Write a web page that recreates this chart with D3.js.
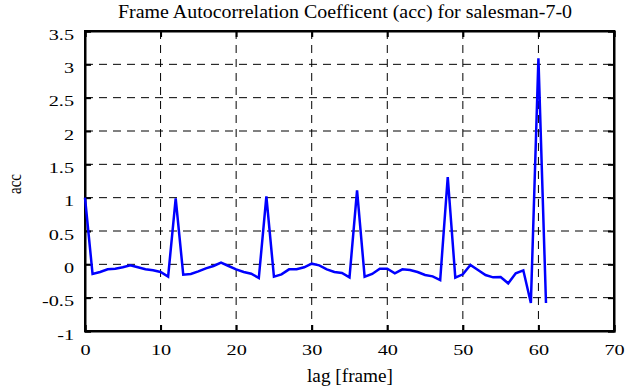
<!DOCTYPE html>
<html>
<head>
<meta charset="utf-8">
<script src="https://cdn.jsdelivr.net/npm/d3@7"></script>
<style>
  body { margin: 0; background: #fff; }
  text { font-family: "Liberation Serif", "Times New Roman", serif; fill: #000; }
</style>
</head>
<body>
<script>
// acc values for lag 0..61
var lags = d3.range(0, 62);
var acc = [1.0, -0.145, -0.115, -0.075, -0.065, -0.045, -0.015, -0.045, -0.075, -0.09,
           -0.115, -0.185, 0.99, -0.155, -0.145, -0.105, -0.06, -0.025, 0.025, -0.025,
           -0.075, -0.115, -0.14, -0.205, 1.02, -0.185, -0.15, -0.075, -0.075, -0.045,
           0.01, -0.015, -0.075, -0.115, -0.13, -0.195, 1.11, -0.185, -0.145, -0.065,
           -0.065, -0.135, -0.075, -0.085, -0.115, -0.16, -0.18, -0.235, 1.31, -0.2,
           -0.15, -0.01, -0.085, -0.16, -0.195, -0.19, -0.285, -0.135, -0.09, -0.58,
           3.09, -0.58];
var xTicks = [0, 10, 20, 30, 40, 50, 60, 70];
var yTicks = [-1, -0.5, 0, 0.5, 1, 1.5, 2, 2.5, 3, 3.5];

var width = 635, height = 387;
// plot box (window.top is reserved, so use other names)
var pLeft = 85, pRight = 614, pTop = 31, pBottom = 331;
var stretch = 1.35; // tick labels in the original are wide

var svg = d3.select("body").append("svg")
    .attr("width", width)
    .attr("height", height);

var x = d3.scaleLinear().domain([0, 70]).range([pLeft, pRight]);
var y = d3.scaleLinear().domain([-1, 3.5]).range([pBottom, pTop]);

// dashed grid
svg.append("g").selectAll("line").data(xTicks.slice(1, -1)).join("line")
    .attr("x1", d => x(d)).attr("x2", d => x(d))
    .attr("y1", pTop).attr("y2", pBottom)
    .attr("stroke", "#000").attr("stroke-width", 1)
    .attr("stroke-dasharray", "8,6");
svg.append("g").selectAll("line").data(yTicks.slice(1, -1)).join("line")
    .attr("x1", pLeft).attr("x2", pRight)
    .attr("y1", d => y(d)).attr("y2", d => y(d))
    .attr("stroke", "#000").attr("stroke-width", 1)
    .attr("stroke-dasharray", "8,6");

// axes, ticks pointing inwards
var fmt = d => String(d);
var xAxis = svg.append("g").attr("transform", "translate(0," + pBottom + ")")
    .call(d3.axisBottom(x).tickValues(xTicks).tickSize(-6).tickFormat(fmt));
svg.append("g").attr("transform", "translate(0," + pTop + ")")
    .call(d3.axisTop(x).tickValues(xTicks).tickSize(-6).tickFormat(""));
var yAxis = svg.append("g").attr("transform", "translate(" + pLeft + ",0)")
    .call(d3.axisLeft(y).tickValues(yTicks).tickSize(-6).tickFormat(fmt));
svg.append("g").attr("transform", "translate(" + pRight + ",0)")
    .call(d3.axisRight(y).tickValues(yTicks).tickSize(-6).tickFormat(""));

svg.selectAll(".domain").attr("stroke", "#000").attr("stroke-width", 2);
svg.selectAll(".tick line").attr("stroke", "#000").attr("stroke-width", 2);
svg.selectAll(".tick text").attr("font-size", 15);

xAxis.selectAll(".tick text")
    .attr("y", 24).attr("dy", 0)
    .attr("transform", "scale(" + stretch + ",1)");
yAxis.selectAll(".tick text")
    .attr("x", -11 / stretch).attr("dy", 8.3)
    .attr("transform", "scale(" + stretch + ",1)");

// frame
svg.append("rect")
    .attr("x", pLeft).attr("y", pTop)
    .attr("width", pRight - pLeft).attr("height", pBottom - pTop)
    .attr("fill", "none").attr("stroke", "#000").attr("stroke-width", 2);

// the series
var line = d3.line()
    .x((d, i) => x(lags[i]))
    .y(d => y(d));
svg.append("path")
    .attr("d", line(acc))
    .attr("fill", "none")
    .attr("stroke", "#0000ff")
    .attr("stroke-width", 2.5)
    .attr("stroke-linejoin", "miter");

// titles
svg.append("text")
    .attr("x", 345).attr("y", 18)
    .attr("text-anchor", "middle").attr("font-size", 18)
    .attr("textLength", 454).attr("lengthAdjust", "spacingAndGlyphs")
    .text("Frame Autocorrelation Coefficent (acc) for salesman-7-0");
svg.append("text")
    .attr("x", 350).attr("y", 382)
    .attr("text-anchor", "middle").attr("font-size", 18)
    .attr("textLength", 86).attr("lengthAdjust", "spacingAndGlyphs")
    .text("lag [frame]");
svg.append("text")
    .attr("transform", "translate(21,184) rotate(-90)")
    .attr("text-anchor", "middle").attr("font-size", 19)
    .attr("textLength", 20).attr("lengthAdjust", "spacingAndGlyphs")
    .text("acc");
</script>
</body>
</html>
